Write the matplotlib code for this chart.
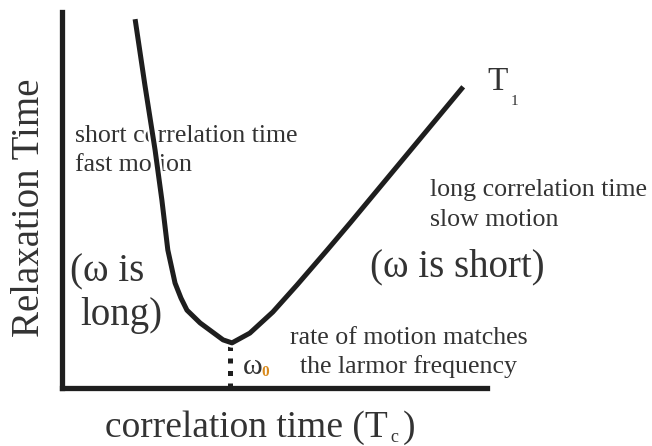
import matplotlib.pyplot as plt
import matplotlib.patheffects as pe

plt.rcParams['font.family'] = ['Liberation Serif', 'DejaVu Serif']

# relaxation time vs correlation time (arbitrary units, 0-10 on both axes)
corr_time = [1.72, 1.95, 2.19, 2.35, 2.49, 2.66, 2.80, 2.94, 3.25, 3.79, 4.00,
             4.42, 4.96, 5.53, 6.24, 6.78, 9.44]
relax_time = [9.81, 8.06, 6.33, 5.00, 3.67, 2.79, 2.39, 2.07, 1.73, 1.28, 1.20,
              1.46, 2.02, 2.74, 3.67, 4.39, 8.01]

# position of the minimum (larmor frequency)
omega0_x = 3.95
omega0_y = 1.14

ink = '#1e1e1e'
txt = '#333333'

fig = plt.figure(figsize=(6.52, 4.46), dpi=100)
ax = fig.add_axes([62 / 652, 58 / 446, 425 / 652, 376 / 446])
ax.set_xlim(0, 10)
ax.set_ylim(0, 10)

ax.plot(corr_time, relax_time, color=ink, lw=3.6, solid_joinstyle='round',
        solid_capstyle='butt', clip_on=False, zorder=5,
        path_effects=[pe.Stroke(linewidth=7, foreground='white'), pe.Normal()])
ax.plot([omega0_x, omega0_x], [0, omega0_y], color=ink, lw=3.6,
        linestyle=(0, (1, 1.5)), dash_capstyle='butt', clip_on=False)

for side in ['top', 'right']:
    ax.spines[side].set_visible(False)
for side in ['left', 'bottom']:
    ax.spines[side].set_linewidth(3.8)
    ax.spines[side].set_color(ink)
    ax.spines[side].set_capstyle('projecting')
ax.set_xticks([])
ax.set_yticks([])

small = 18.6
big = 28

ax.text(0.31, 6.70, 'short correlation time', fontsize=small, color=txt, va='center')
ax.text(0.31, 5.93, 'fast motion', fontsize=small, color=txt, va='center')
ax.text(0.19, 3.09, '(\u03c9 is', fontsize=big, color=txt, va='center')
ax.text(0.42, 1.94, 'long)', fontsize=big, color=txt, va='center')
ax.text(7.25, 3.22, '(\u03c9 is short)', fontsize=big, color=txt, va='center')
ax.text(8.66, 5.27, 'long correlation time', fontsize=small, color=txt, va='center')
ax.text(8.66, 4.47, 'slow motion', fontsize=small, color=txt, va='center')
ax.text(5.36, 1.33, 'rate of motion matches', fontsize=small, color=txt, va='center')
ax.text(5.60, 0.56, 'the larmor frequency', fontsize=small, color=txt, va='center')
ax.text(4.26, 0.56, '\u03c9', fontsize=small + 3, color=txt, va='center')
ax.text(4.70, 0.40, '0', fontsize=11, color='#d98a1c', va='center', fontweight='bold')
ax.text(10.0, 8.14, 'T', fontsize=24, color=txt, va='center')
ax.text(10.55, 7.62, '1', fontsize=11, color=txt, va='center')

fig.text(30 / 652, 1 - 208 / 446, 'Relaxation Time', fontsize=28, color=txt,
         rotation=90, ha='center', va='center')
fig.text(105 / 652, 1 - 428 / 446, 'correlation time (T', fontsize=27, color=txt,
         ha='left', va='center')
fig.text(390 / 652, 1 - 437 / 446, 'c', fontsize=13, color=txt, ha='left', va='center')
fig.text(403 / 652, 1 - 428 / 446, ')', fontsize=27, color=txt, ha='left', va='center')

fig.savefig('out.png', dpi=100)
